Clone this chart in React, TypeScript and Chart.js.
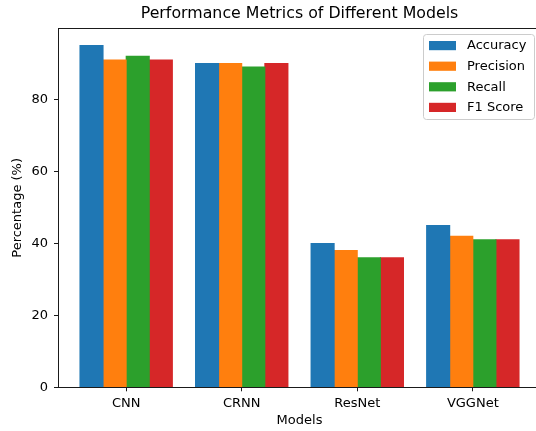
import React, { useEffect, useRef } from "react";
import { Chart, registerables } from "chart.js";

Chart.register(...registerables);

const chartTitle = "Performance Metrics of Different Models";
const categories = ["CNN", "CRNN", "ResNet", "VGGNet"];
const metricNames = ["Accuracy", "Precision", "Recall", "F1 Score"];
const accuracy = [95, 90, 40, 45];
const precision = [91, 90, 38, 42];
const recall = [92, 89, 36, 41];
const f1Score = [91, 90, 36, 41];
const yTicks = [0, 20, 40, 60, 80];
const colors = ["#1f77b4", "#ff7f0e", "#2ca02c", "#d62728"];

const FONT = "'DejaVu Sans', sans-serif";

const framePlugin = {
  id: "frame",
  afterDatasetsDraw(chart: any) {
    const { ctx, chartArea } = chart;
    const l = Math.round(chartArea.left) + 0.5;
    const t = Math.round(chartArea.top) + 0.5;
    const r = Math.round(chartArea.right) + 0.5;
    const b = Math.round(chartArea.bottom) + 0.5;
    ctx.save();
    ctx.strokeStyle = "#1a1a1a";
    ctx.lineWidth = 1;
    ctx.strokeRect(l, t, r - l, b - t);
    ctx.restore();
  },
};

const titlePlugin = {
  id: "axesTitle",
  afterDraw(chart: any) {
    const { ctx, chartArea } = chart;
    ctx.save();
    ctx.font = `15.8px ${FONT}`;
    ctx.fillStyle = "#000";
    ctx.textAlign = "center";
    ctx.textBaseline = "middle";
    ctx.fillText(chartTitle, (chartArea.left + chartArea.right) / 2, 13.5);
    ctx.restore();
  },
};

const legendPlugin = {
  id: "innerLegend",
  afterDraw(chart: any) {
    const { ctx } = chart;
    const x0 = 423.5;
    const y0 = 34.5;
    const w = 111;
    const h = 85;
    const rad = 3;
    ctx.save();
    ctx.beginPath();
    ctx.moveTo(x0 + rad, y0);
    ctx.lineTo(x0 + w - rad, y0);
    ctx.quadraticCurveTo(x0 + w, y0, x0 + w, y0 + rad);
    ctx.lineTo(x0 + w, y0 + h - rad);
    ctx.quadraticCurveTo(x0 + w, y0 + h, x0 + w - rad, y0 + h);
    ctx.lineTo(x0 + rad, y0 + h);
    ctx.quadraticCurveTo(x0, y0 + h, x0, y0 + h - rad);
    ctx.lineTo(x0, y0 + rad);
    ctx.quadraticCurveTo(x0, y0, x0 + rad, y0);
    ctx.closePath();
    ctx.fillStyle = "rgba(255,255,255,0.8)";
    ctx.fill();
    ctx.strokeStyle = "#cccccc";
    ctx.lineWidth = 1;
    ctx.stroke();
    ctx.font = `13px ${FONT}`;
    ctx.textBaseline = "middle";
    ctx.textAlign = "left";
    chart.data.datasets.forEach((ds: any, i: number) => {
      const cy = 45.6 + i * 20.6;
      ctx.fillStyle = ds.backgroundColor;
      ctx.fillRect(429, cy - 4.6, 27, 9.2);
      ctx.fillStyle = "#000";
      ctx.fillText(ds.label, 467, cy + 0.5);
    });
    ctx.restore();
  },
};

export default function App() {
  const ref = useRef<HTMLCanvasElement | null>(null);

  useEffect(() => {
    document.body.style.margin = "0";
    const canvas = ref.current;
    if (!canvas) return;
    const series = [accuracy, precision, recall, f1Score];
    const chart = new Chart(canvas, {
      type: "bar",
      data: {
        datasets: series.map((vals, si) => ({
          label: metricNames[si],
          data: vals.map((v, i) => ({ x: i, y: v })),
          backgroundColor: colors[si],
          borderWidth: 0,
          inflateAmount: 0.5,
          categoryPercentage: 0.8,
          barPercentage: 1.0,
        })),
      },
      options: {
        responsive: false,
        animation: false,
        layout: { padding: { left: 0, right: 59, top: 28.4, bottom: 0 } },
        plugins: {
          legend: { display: false },
          tooltip: { enabled: false },
          title: { display: false },
        },
        scales: {
          x: {
            type: "linear",
            offset: false,
            min: -0.59,
            max: 3.59,
            afterBuildTicks: (scale: any) => {
              scale.ticks = categories.map((_, i) => ({ value: i }));
            },
            afterFit: (scale: any) => {
              scale.height = 43.7;
            },
            ticks: {
              autoSkip: false,
              maxRotation: 0,
              color: "#000",
              padding: 5,
              font: { family: FONT, size: 13 },
              callback: (v: any) => categories[v] ?? "",
            },
            grid: {
              display: true,
              offset: false,
              drawOnChartArea: false,
              drawTicks: true,
              tickLength: 4,
              color: "#1a1a1a",
              lineWidth: 1,
            },
            border: { display: false },
            title: {
              display: true,
              text: "Models",
              color: "#000",
              font: { family: FONT, size: 13 },
              padding: { top: 0, bottom: 3 },
            },
          },
          y: {
            type: "linear",
            min: 0,
            max: 99.75,
            afterBuildTicks: (scale: any) => {
              scale.ticks = yTicks.map((v) => ({ value: v }));
            },
            afterFit: (scale: any) => {
              scale.width = 58;
            },
            ticks: {
              color: "#000",
              padding: 6,
              font: { family: FONT, size: 13 },
            },
            grid: {
              display: true,
              drawOnChartArea: false,
              drawTicks: true,
              tickLength: 4,
              color: "#1a1a1a",
              lineWidth: 1,
            },
            border: { display: false },
            title: {
              display: true,
              text: "Percentage (%)",
              color: "#000",
              font: { family: FONT, size: 13 },
              padding: { top: 10, bottom: 0 },
            },
          },
        },
      },
      plugins: [framePlugin, legendPlugin, titlePlugin],
    } as any);
    return () => chart.destroy();
  }, []);

  return (
    <div style={{ width: 536, height: 431, overflow: "hidden", position: "relative" }}>
      <canvas ref={ref} width={600} height={431} style={{ display: "block", width: 600, height: 431 }} />
    </div>
  );
}
